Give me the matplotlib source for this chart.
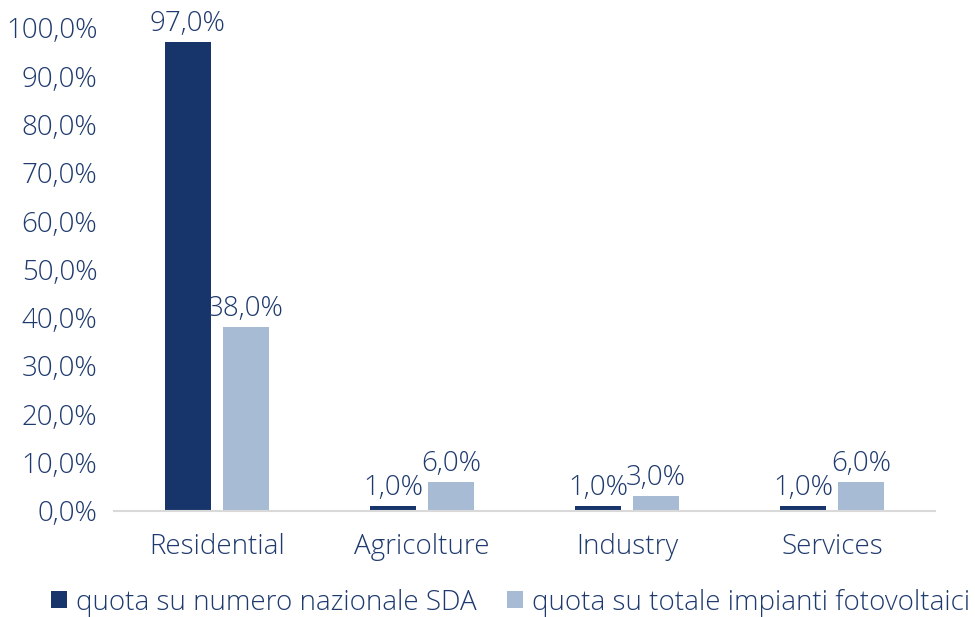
import matplotlib
matplotlib.use("Agg")
import matplotlib.pyplot as plt
import numpy as np

categories = ["Residential", "Agricolture", "Industry", "Services"]
series_names = ["quota su numero nazionale SDA", "quota su totale impianti fotovoltaici"]
sda = [97.0, 1.0, 1.0, 1.0]
pv = [38.0, 6.0, 3.0, 6.0]
yticks = [0, 10, 20, 30, 40, 50, 60, 70, 80, 90, 100]

dark = "#17346B"
light = "#A7BBD4"
txt = "#1F3A6E"

plt.rcParams['font.family'] = ['Open Sans', 'DejaVu Sans']
FS = 20
WT = "light"

fig = plt.figure(figsize=(9.75, 6.17), dpi=100)
ax = fig.add_axes([0.117, 0.172, 0.842, 0.783])

x = np.arange(len(categories))
w = 0.224
off = 0.141
b1 = ax.bar(x - off, sda, w, color=dark, label=series_names[0])
b2 = ax.bar(x + off, pv, w, color=light, label=series_names[1])

def fmt(v):
    return f"{v:.1f}%".replace(".", ",")

for bars, vals in ((b1, sda), (b2, pv)):
    for r, v in zip(bars, vals):
        ax.annotate(fmt(v), (r.get_x() + r.get_width() / 2, v), xytext=(0, 3),
                    textcoords="offset points", ha="center", va="bottom",
                    fontsize=FS, color=txt, fontweight=WT, annotation_clip=False)

ax.set_xlim(-0.5, 3.5)
ax.set_ylim(0, 100)
ax.set_yticks(yticks)
ax.set_yticklabels([fmt(v) for v in yticks], fontsize=FS, color=txt, fontweight=WT)
ax.set_xticks(x)
ax.set_xticklabels(categories, fontsize=FS, color=txt, fontweight=WT)
ax.tick_params(axis='both', length=0)
ax.tick_params(axis='x', pad=16)
ax.tick_params(axis='y', pad=12)
for s in ["top", "right", "left"]:
    ax.spines[s].set_visible(False)
ax.spines["bottom"].set_color("#D9D9D9")
ax.spines["bottom"].set_linewidth(1.5)

leg = fig.legend(handles=[b1, b2], labels=series_names, loc="lower center",
           bbox_to_anchor=(0.524, -0.04), ncol=2, frameon=False,
           prop={"size": FS, "weight": WT},
           labelcolor=txt, handlelength=0.55, handleheight=0.55, handletextpad=0.35,
           columnspacing=1.1)

fig.savefig("out.png", dpi=100)
